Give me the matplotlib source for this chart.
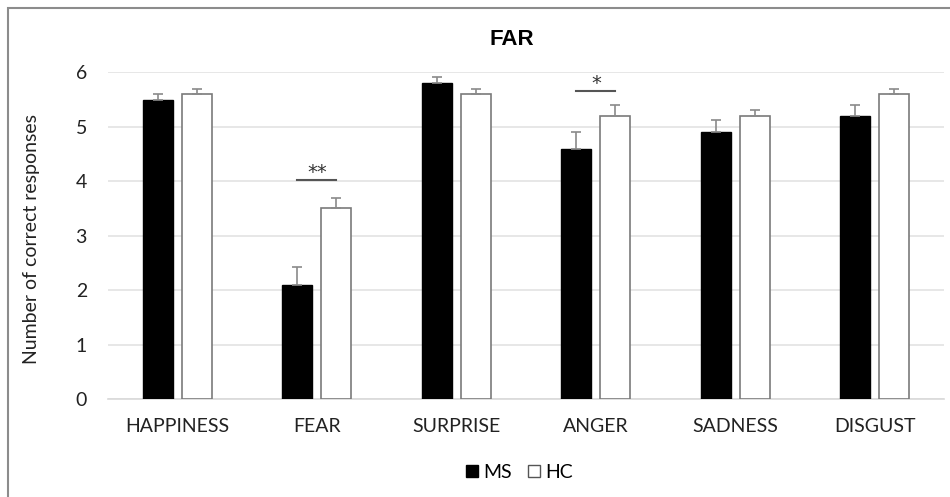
import numpy as np
import matplotlib
matplotlib.use("Agg")
import matplotlib.pyplot as plt
from matplotlib.patches import Patch, Rectangle

categories = ["HAPPINESS", "FEAR", "SURPRISE", "ANGER", "SADNESS", "DISGUST"]
ms_means = [5.5, 2.1, 5.8, 4.6, 4.9, 5.2]
ms_err = [0.1, 0.32, 0.12, 0.3, 0.22, 0.2]
hc_means = [5.6, 3.5, 5.6, 5.2, 5.2, 5.6]
hc_err = [0.1, 0.2, 0.1, 0.2, 0.11, 0.1]
# significance brackets: category index, bracket height, label
sig_idx = [1, 3]
sig_y = [4.02, 5.66]
sig_txt = ["**", "*"]

plt.rcParams["font.family"] = ["Lato", "DejaVu Sans"]

fig = plt.figure(figsize=(9.5, 4.97), dpi=100)
ax = fig.add_axes([0.1134, 0.1972, 0.8808, 0.6573])

x = np.arange(len(categories))
w = 0.215
off = 0.14
ekw = dict(ecolor="#8a8a8a", elinewidth=1.2, capsize=3.5, capthick=1.2)
ax.bar(x - off, ms_means, w, color="black", edgecolor="black",
       yerr=[np.zeros(len(ms_err)), ms_err], error_kw=ekw, label="MS", zorder=3)
ax.bar(x + off, hc_means, w, color="white", edgecolor="#7a7a7a", linewidth=1.2,
       yerr=[np.zeros(len(hc_err)), hc_err], error_kw=ekw, label="HC", zorder=3)

for i, yv, t in zip(sig_idx, sig_y, sig_txt):
    ax.plot([i - off, i + off], [yv, yv], color="#555555", lw=1.5, zorder=4)
    ax.text(i, yv + 0.03, t, ha="center", va="baseline", fontsize=14,
            family="DejaVu Sans", color="#333333")

ax.set_xlim(-0.5, len(categories) - 0.5)
ax.set_ylim(0, 6)
ax.set_yticks(range(7))
ax.set_xticks(x)
ax.set_xticklabels(categories)
ax.tick_params(length=0, labelsize=14, colors="#222222")
ax.tick_params(axis="x", pad=14)
ax.tick_params(axis="y", pad=15)
ax.yaxis.grid(True, color="#e3e3e3", lw=1.2, zorder=0)
ax.set_axisbelow(True)
for s in ["top", "right", "left"]:
    ax.spines[s].set_visible(False)
ax.spines["bottom"].set_color("#d9d9d9")
ax.spines["bottom"].set_linewidth(1.2)

ax.set_ylabel("Number of correct responses", fontsize=14, color="#222222")
ax.yaxis.set_label_coords(-0.081, 0.49)
fig.text(0.539, 0.921, "FAR", ha="center", va="center", fontsize=16,
         fontweight="bold", family="Liberation Sans", color="black")

handles = [Patch(facecolor="black", edgecolor="black", label="MS"),
           Patch(facecolor="white", edgecolor="#555555", label="HC")]
fig.legend(handles=handles, loc="center", bbox_to_anchor=(0.547, 0.05), ncol=2,
           frameon=False, fontsize=14, handlelength=0.6, handleheight=0.6,
           handletextpad=0.3, columnspacing=0.8)

fig.patches.append(Rectangle((8, -20), 1000, 497 - 8 + 20, transform=None,
                             fill=False, edgecolor="#8c8c8c", lw=1.5))

fig.savefig("out.png", dpi=100)
